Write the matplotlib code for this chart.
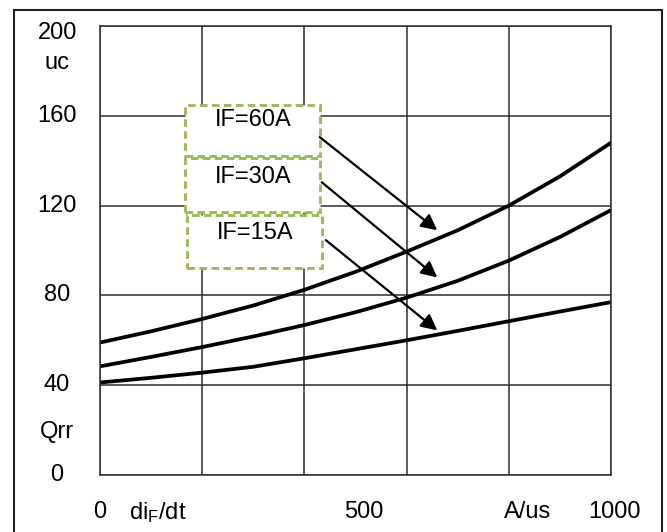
import matplotlib.pyplot as plt
from matplotlib.patches import Rectangle

plt.rcParams['font.family'] = ['Liberation Sans', 'DejaVu Sans']
plt.rcParams['mathtext.fontset'] = 'custom'
plt.rcParams['mathtext.rm'] = 'Liberation Sans'
plt.rcParams['mathtext.it'] = 'Liberation Sans'

# di/dt (A/us) vs Qrr (uC)
didt = [0, 100, 200, 300, 400, 500, 600, 700, 800, 900, 1000]
qrr_60a = [59, 64, 69.5, 75.5, 82.5, 90.5, 99.5, 109, 120, 133, 148]
qrr_30a = [48.4, 52.6, 57, 61.7, 66.8, 72.5, 79, 86.5, 95.5, 106, 118]
qrr_15a = [41.2, 43.3, 45.6, 48.2, 52, 56, 60, 64.2, 68.5, 72.8, 77]

# label boxes: text, box (x0, x1, y_bottom, y_top), text pos, arrow start, arrow end
labels = ['IF=60A', 'IF=30A', 'IF=15A']
box_x = [(166, 430), (166, 430), (170, 434)]
box_y = [(142, 165), (117, 141), (92, 115.7)]
text_xy = [(299, 158), (299, 132.7), (303, 107.7)]
arrow_from = [(430, 150.5), (434, 130.4), (442, 104.6)]
arrow_to = [(660, 109), (660, 88), (660, 64.4)]

ytick_vals = [0, 40, 80, 120, 160, 200]
ylabels = [('200', 196.9), ('uc', 183.5), ('160', 160), ('120', 120), ('80', 80),
           ('40', 40), ('Qrr', 19), ('0', 0)]
xlabels = [('0', 0), (r'di$_\mathrm{F}$/dt', 113), ('500', 517), ('A/us', 837), ('1000', 1006)]

fig = plt.figure(figsize=(6.67, 5.32), dpi=100)
ax = fig.add_axes([100 / 667, 57 / 532, 511 / 667, 449 / 532])

# outer frame around the whole picture
fig.patches.append(Rectangle((14 / 667, -0.02), 648 / 667, 0.02 + 522 / 532,
                             transform=fig.transFigure, fill=False,
                             edgecolor='#222222', lw=1.5))

ax.set_xlim(0, 1000)
ax.set_ylim(0, 200)
ax.set_xticks(range(0, 1001, 200))
ax.set_yticks(ytick_vals)
ax.tick_params(length=0, labelbottom=False, labelleft=False)
ax.grid(True, color='#2e2e2e', lw=1.1)
for sp in ax.spines.values():
    sp.set_color('#2e2e2e')
    sp.set_linewidth(1.1)

for q in (qrr_60a, qrr_30a, qrr_15a):
    ax.plot(didt, q, color='black', lw=2.7, solid_capstyle='butt',
            solid_joinstyle='round')

fs = 17
for (x0, x1), (y0, y1), (tx, ty), p0, p1, lab in zip(box_x, box_y, text_xy,
                                                      arrow_from, arrow_to, labels):
    ax.add_patch(Rectangle((x0, y0), x1 - x0, y1 - y0, facecolor='white',
                           edgecolor='#9bbb59', lw=2.1, linestyle=(0, (2.6, 1.5)),
                           zorder=4))
    ax.text(tx, ty, lab, ha='center', va='center', fontsize=fs, zorder=5)
    ax.annotate('', xy=p1, xytext=p0, zorder=6,
                arrowprops=dict(arrowstyle='-|>', color='black', lw=1.6,
                                mutation_scale=24, shrinkA=0, shrinkB=0))

for s, y in ylabels:
    ax.text(-84, y, s, ha='center', va='center', fontsize=fs, clip_on=False)
for s, x in xlabels:
    ax.text(x, -16.7, s, ha='center', va='center', fontsize=fs, clip_on=False)

fig.savefig('out.png', dpi=100)
